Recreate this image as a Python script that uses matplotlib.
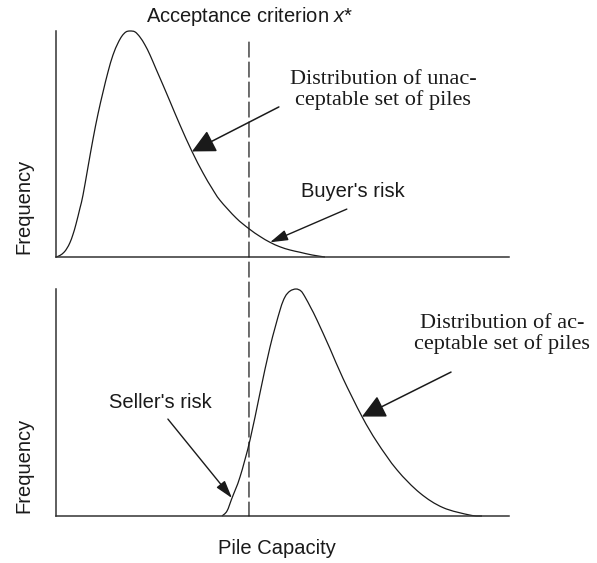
import numpy as np
import matplotlib.pyplot as plt
from matplotlib.path import Path
from matplotlib.patches import ConnectionPatch, PathPatch

plt.rcParams['font.family'] = ['Liberation Sans', 'DejaVu Sans']
plt.rcParams['mathtext.fontset'] = 'custom'
plt.rcParams['mathtext.rm'] = 'Liberation Sans'
plt.rcParams['mathtext.it'] = 'Liberation Sans:italic'

# 不合格桩的承载力分布（上图）
cap_unacc = [0.0, 0.88, 1.77, 2.43, 3.09, 3.75, 4.42, 5.30, 5.96, 7.06, 8.17,
             9.27, 10.38, 11.48, 12.58, 13.69, 14.57, 15.45, 16.34, 17.44,
             18.54, 19.65, 20.75, 22.08, 23.62, 25.17, 27.37, 30.02, 32.45,
             34.44, 36.20, 39.74, 42.60, 45.03, 47.24, 49.45, 51.66, 53.86,
             56.51, 59.38]
freq_unacc = [0.0, 0.007, 0.021, 0.039, 0.064, 0.100, 0.146, 0.217, 0.274,
              0.398, 0.522, 0.633, 0.730, 0.819, 0.894, 0.947, 0.978, 0.996,
              1.0, 0.996, 0.973, 0.938, 0.894, 0.832, 0.761, 0.688, 0.584,
              0.467, 0.372, 0.304, 0.251, 0.173, 0.125, 0.091, 0.065, 0.045,
              0.031, 0.021, 0.009, 0.0]

# 合格桩的承载力分布（下图）
cap_acc = [36.64, 37.75, 38.85, 40.62, 42.83, 45.03, 47.24, 49.45, 50.55,
           51.66, 52.98, 54.08, 54.97, 56.29, 57.62, 60.49, 63.36, 67.55,
           70.86, 75.28, 80.35, 85.43, 91.39, 94.04]
freq_acc = [0.0, 0.022, 0.079, 0.172, 0.335, 0.542, 0.744, 0.907, 0.965,
            0.991, 1.0, 0.991, 0.965, 0.916, 0.863, 0.737, 0.606, 0.438,
            0.326, 0.203, 0.101, 0.037, 0.004, 0.0]

# 验收标准 x*
x_star = 42.6


def smooth_path(xs, ys):
    # Catmull-Rom 曲线，转成三次贝塞尔，经过每个读数点
    p = np.column_stack([xs, ys]).astype(float)
    p = np.vstack([p[0], p, p[-1]])
    verts = [p[1]]
    codes = [Path.MOVETO]
    for i in range(1, len(p) - 2):
        c1 = p[i] + (p[i + 1] - p[i - 1]) / 6.0
        c2 = p[i + 1] - (p[i + 2] - p[i]) / 6.0
        verts += [c1, c2, p[i + 1]]
        codes += [Path.CURVE4] * 3
    return Path(verts, codes)


W, H = 597, 563
fig = plt.figure(figsize=(W / 100, H / 100), dpi=100)
ax1 = fig.add_axes([56 / W, 1 - 257 / H, 453 / W, 226 / H])
ax2 = fig.add_axes([56 / W, 1 - 516 / H, 453 / W, 227 / H])

axis_col = '#333333'
ink = '#1a1a1a'
for ax in (ax1, ax2):
    ax.set_xlim(0, 100)
    ax.set_ylim(0, 1)
    ax.set_xticks([])
    ax.set_yticks([])
    ax.patch.set_visible(False)
    for s in ('top', 'right'):
        ax.spines[s].set_visible(False)
    for s in ('left', 'bottom'):
        ax.spines[s].set_linewidth(1.1)
        ax.spines[s].set_color(axis_col)
    ax.text(-0.0706, 0.222, 'Frequency', rotation=90, transform=ax.transAxes,
            ha='center', va='center', fontsize=14.5, color=ink)

ax1.add_patch(PathPatch(smooth_path(cap_unacc, freq_unacc), fill=False,
                        ec=ink, lw=0.9, clip_on=False))
ax2.add_patch(PathPatch(smooth_path(cap_acc, freq_acc), fill=False,
                        ec=ink, lw=0.9, clip_on=False))

# 贯穿上下两图的虚线
con = ConnectionPatch(xyA=(x_star, 0.951), coordsA=ax1.transData,
                      xyB=(x_star, 0.0), coordsB=ax2.transData,
                      linestyle=(0, (12, 4)), lw=0.9, color=ink)
fig.add_artist(con)

big_head = dict(arrowstyle='-|>,head_length=0.4,head_width=0.2',
                mutation_scale=36, lw=1.1, color=ink, shrinkA=0, shrinkB=0)
small_head = dict(arrowstyle='-|>,head_length=0.4,head_width=0.12',
                  mutation_scale=27, lw=1.0, color=ink, shrinkA=0, shrinkB=0)

ax1.annotate('', xy=(cap_unacc[27], freq_unacc[27]), xytext=(49.2, 0.664),
             arrowprops=big_head, annotation_clip=False)
ax1.annotate('', xy=(cap_unacc[34], freq_unacc[34]), xytext=(64.2, 0.212),
             arrowprops=small_head, annotation_clip=False)
ax2.annotate('', xy=(cap_acc[2], freq_acc[2]), xytext=(24.7, 0.427),
             arrowprops=small_head, annotation_clip=False)
ax2.annotate('', xy=(cap_acc[17], freq_acc[17]), xytext=(87.2, 0.634),
             arrowprops=big_head, annotation_clip=False)

serif = ['Liberation Serif', 'DejaVu Serif']
ax1.text(72.2, 0.739, 'Distribution of unac-\nceptable set of piles',
         family=serif, fontsize=16, ha='center', va='center',
         multialignment='center', linespacing=1.05, color=ink)
ax2.text(98.4, 0.802, 'Distribution of ac-\nceptable set of piles',
         family=serif, fontsize=16, ha='center', va='center',
         multialignment='center', linespacing=1.05, color=ink,
         clip_on=False)
ax1.text(65.6, 0.288, "Buyer's risk", ha='center', va='center',
         fontsize=14.5, color=ink)
ax2.text(23.0, 0.498, "Seller's risk", ha='center', va='center',
         fontsize=14.5, color=ink)

fig.text(250 / W, 1 - 16 / H, 'Acceptance criterion $x$*', ha='center',
         va='center', fontsize=14.5, color=ink)
fig.text(277 / W, 1 - 548 / H, 'Pile Capacity', ha='center', va='center',
         fontsize=14.5, color=ink)

fig.savefig('out.png', dpi=100)
